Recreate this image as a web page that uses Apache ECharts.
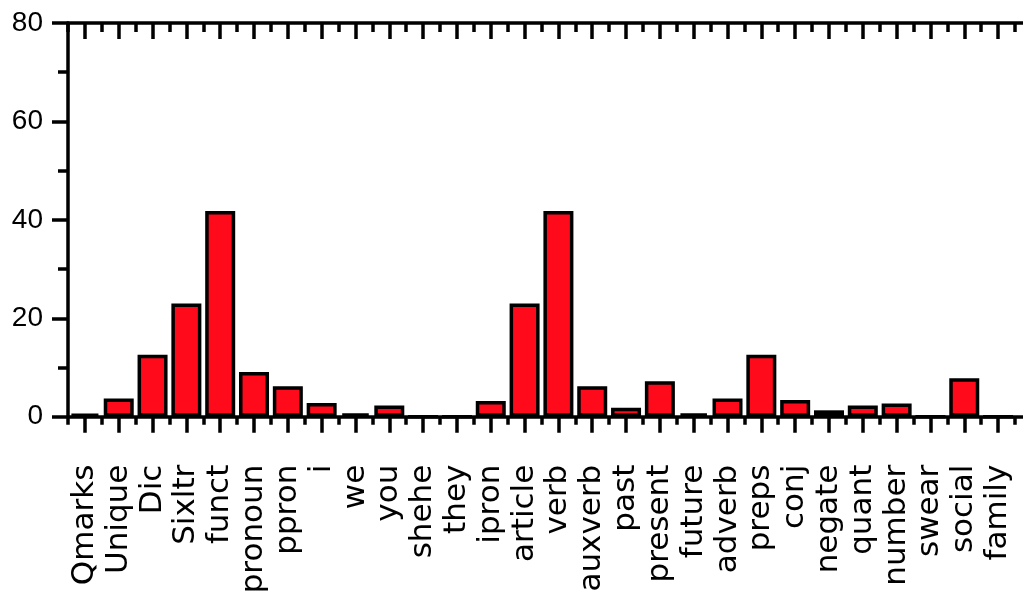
<!DOCTYPE html>
<html>
<head>
<meta charset="utf-8">
<script src="https://cdn.jsdelivr.net/npm/echarts@6/dist/echarts.min.js"></script>
<style>
  html, body { margin: 0; padding: 0; background: #fff; }
  #chart { width: 1023px; height: 606px; }
</style>
</head>
<body>
<div id="chart"></div>
<script>
// LIWC category scores
const categories = ['Qmarks', 'Unique', 'Dic', 'Sixltr', 'funct', 'pronoun', 'ppron', 'i', 'we', 'you',
  'shehe', 'they', 'ipron', 'article', 'verb', 'auxverb', 'past', 'present', 'future', 'adverb',
  'preps', 'conj', 'negate', 'quant', 'number', 'swear', 'social', 'family'];
const scores = [0.6, 3.7, 12.6, 23.0, 41.8, 9.1, 6.2, 2.8, 0.7, 2.3,
  0, 0, 3.2, 23.0, 41.8, 6.2, 1.8, 7.2, 0.7, 3.7,
  12.6, 3.4, 1.3, 2.3, 2.7, 0, 7.8, 0];
const yTicks = [0, 20, 40, 60, 80];

const chart = echarts.init(document.getElementById('chart'), null, { renderer: 'canvas' });

const black = '#000';
const lineW = 3.5;
const plotTop = 23;
const plotHeight = 393.7;
const numberFont = 'Liberation Sans, Arial, sans-serif';
const nameFont = 'DejaVu Sans, Liberation Sans, sans-serif';

function tickAxis(position, inside, length, centered, showLabels) {
  return {
    type: 'category',
    gridIndex: 0,
    position: position,
    data: categories,
    axisLine: { show: false },
    axisTick: {
      show: true, inside: inside, length: length, interval: 0,
      alignWithLabel: centered,
      lineStyle: { color: black, width: lineW }
    },
    axisLabel: showLabels ? {
      show: true, interval: 0, rotate: 90, margin: 48,
      color: black, fontSize: 31, fontFamily: nameFont,
      padding: [0, 0, 6, 0]
    } : { show: false },
    splitLine: { show: false }
  };
}

const option = {
  animation: false,
  backgroundColor: '#fff',
  grid: [
    { left: 68, top: plotTop, width: 947, height: plotHeight, containLabel: false },
    { left: 68, top: plotTop, width: 964, height: plotHeight, containLabel: false }
  ],
  xAxis: [
    tickAxis('bottom', false, 16, true, true),
    tickAxis('bottom', false, 8, false, false),
    tickAxis('top', true, 16, true, false),
    tickAxis('top', true, 9, false, false),
    {
      type: 'value', gridIndex: 1, position: 'bottom', min: 0, max: 1,
      axisLine: { show: true, lineStyle: { color: black, width: lineW } },
      axisTick: { show: false }, axisLabel: { show: false }, splitLine: { show: false }
    },
    {
      type: 'value', gridIndex: 1, position: 'top', min: 0, max: 1,
      axisLine: { show: true, lineStyle: { color: black, width: lineW } },
      axisTick: { show: false }, axisLabel: { show: false }, splitLine: { show: false }
    }
  ],
  yAxis: [
    {
      type: 'value', gridIndex: 0, position: 'left',
      min: yTicks[0], max: yTicks[yTicks.length - 1], interval: 20,
      axisLine: { show: true, lineStyle: { color: black, width: lineW } },
      axisTick: { show: true, inside: false, length: 16, lineStyle: { color: black, width: lineW } },
      minorTick: { show: true, splitNumber: 2, length: 10, lineStyle: { color: black, width: lineW } },
      axisLabel: { show: true, margin: 25, color: black, fontSize: 28, fontFamily: numberFont },
      splitLine: { show: false }
    },
    {
      type: 'value', gridIndex: 1, position: 'right',
      min: yTicks[0], max: yTicks[yTicks.length - 1], interval: 20,
      axisLine: { show: false },
      axisTick: { show: true, inside: true, length: 15, lineStyle: { color: black, width: lineW } },
      axisLabel: { show: false },
      splitLine: { show: false }
    }
  ],
  series: [
    {
      type: 'bar',
      xAxisIndex: 0,
      yAxisIndex: 0,
      data: scores,
      barWidth: 30,
      itemStyle: { color: '#ff0a1a', borderColor: black, borderWidth: 3.5 }
    }
  ]
};

chart.setOption(option);
</script>
</body>
</html>
